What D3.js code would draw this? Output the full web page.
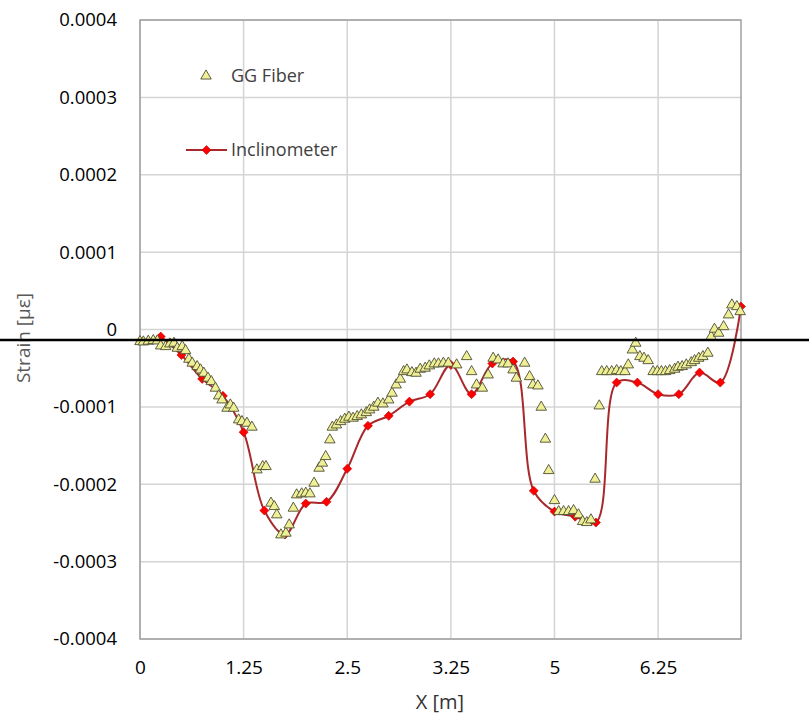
<!DOCTYPE html>
<html>
<head>
<meta charset="utf-8">
<script src="https://cdn.jsdelivr.net/npm/d3@7"></script>
<style>
  body { margin: 0; background: #fff; }
  svg { display: block; font-family: "Open Sans", sans-serif; }
</style>
</head>
<body>
<svg id="chart" width="809" height="716"></svg>
<script>
// GG Fiber readings: position along the line [m] and strain
const fiberX = [0.00, 0.04, 0.10, 0.16, 0.21, 0.25, 0.31, 0.36, 0.41, 0.45,
    0.51, 0.55, 0.59, 0.63, 0.69, 0.73, 0.77, 0.82, 0.86, 0.91,
    0.95, 0.99, 1.05, 1.09, 1.13, 1.19, 1.23, 1.29, 1.35, 1.41,
    1.48, 1.52, 1.58, 1.62, 1.65, 1.70, 1.76, 1.80, 1.85, 1.89,
    1.95, 2.00, 2.05, 2.10, 2.16, 2.20, 2.24, 2.29, 2.32, 2.37,
    2.42, 2.47, 2.52, 2.57, 2.62, 2.67, 2.73, 2.77, 2.82, 2.87,
    2.93, 3.00, 3.04, 3.09, 3.14, 3.18, 3.22, 3.28, 3.33, 3.38,
    3.44, 3.49, 3.55, 3.60, 3.66, 3.72, 3.82, 3.94, 4.00, 4.06,
    4.13, 4.20, 4.26, 4.32, 4.38, 4.44, 4.50, 4.54, 4.64, 4.70,
    4.74, 4.80, 4.84, 4.89, 4.93, 5.00, 5.05, 5.11, 5.17, 5.23,
    5.29, 5.34, 5.39, 5.44, 5.49, 5.54, 5.57, 5.63, 5.69, 5.75,
    5.80, 5.85, 5.89, 5.94, 5.98, 6.03, 6.08, 6.13, 6.19, 6.24,
    6.29, 6.34, 6.39, 6.45, 6.49, 6.54, 6.59, 6.65, 6.69, 6.74,
    6.79, 6.85, 6.89, 6.93, 6.98, 7.04, 7.10, 7.14, 7.20, 7.24];
const fiberStrain = [-0.0000156, -0.0000160, -0.0000151, -0.0000143, -0.0000147, -0.0000212, -0.0000221, -0.0000186, -0.0000177, -0.0000242,
    -0.0000221, -0.0000273, -0.0000384, -0.0000435, -0.0000479, -0.0000522, -0.0000565, -0.0000629, -0.0000673, -0.0000758,
    -0.0000858, -0.0000910, -0.0001017, -0.0000974, -0.0001017, -0.0001168, -0.0001190, -0.0001211, -0.0001262, -0.0001814,
    -0.0001771, -0.0001771, -0.0002244, -0.0002288, -0.0002395, -0.0002654, -0.0002632, -0.0002525, -0.0002309, -0.0002137,
    -0.0002124, -0.0002115, -0.0002124, -0.0001986, -0.0001792, -0.0001727, -0.0001642, -0.0001426, -0.0001262, -0.0001233,
    -0.0001190, -0.0001159, -0.0001133, -0.0001146, -0.0001125, -0.0001103, -0.0001074, -0.0001039, -0.0001004, -0.0000952,
    -0.0000961, -0.0000910, -0.0000823, -0.0000716, -0.0000642, -0.0000544, -0.0000522, -0.0000557, -0.0000565, -0.0000513,
    -0.0000500, -0.0000470, -0.0000444, -0.0000444, -0.0000435, -0.0000435, -0.0000457, -0.0000350, -0.0000544, -0.0000716,
    -0.0000758, -0.0000587, -0.0000371, -0.0000393, -0.0000444, -0.0000444, -0.0000522, -0.0000629, -0.0000435, -0.0000609,
    -0.0000716, -0.0000729, -0.0001004, -0.0001417, -0.0001823, -0.0002211, -0.0002353, -0.0002353, -0.0002353, -0.0002340,
    -0.0002395, -0.0002482, -0.0002495, -0.0002460, -0.0001934, -0.0000987, -0.0000544, -0.0000544, -0.0000544, -0.0000531,
    -0.0000544, -0.0000544, -0.0000457, -0.0000264, -0.0000177, -0.0000350, -0.0000371, -0.0000402, -0.0000544, -0.0000544,
    -0.0000544, -0.0000544, -0.0000531, -0.0000513, -0.0000487, -0.0000479, -0.0000457, -0.0000428, -0.0000402, -0.0000371,
    -0.0000350, -0.0000306, -0.0000092, 0.0000004, -0.0000048, 0.0000037, 0.0000189, 0.0000318, 0.0000296, 0.0000231];

// Inclinometer readings
const inclX = [0.25, 0.5, 0.75, 1.0, 1.25, 1.5, 1.75, 2.0, 2.25, 2.5,
    2.75, 3.0, 3.25, 3.5, 3.75, 4.0, 4.25, 4.5, 4.75, 5.0,
    5.25, 5.5, 5.75, 6.0, 6.25, 6.5, 6.75, 7.0, 7.25];
const inclStrain = [-0.0000092, -0.0000330, -0.0000638, -0.0000858, -0.0001327, -0.0002340, -0.0002650, -0.0002250, -0.0002227, -0.0001800,
    -0.0001245, -0.0001116, -0.0000932, -0.0000836, -0.0000457, -0.0000836, -0.0000440, -0.0000415, -0.0002085, -0.0002353,
    -0.0002420, -0.0002495, -0.0000686, -0.0000686, -0.0000836, -0.0000836, -0.0000557, -0.0000686, 0.0000296];

const xTickValues = [0, 1.25, 2.5, 3.75, 5, 6.25];
const xTickLabels = ["0", "1.25", "2.5", "3.25", "5", "6.25"];
const yTickValues = [0.0004, 0.0003, 0.0002, 0.0001, 0, -0.0001, -0.0002, -0.0003, -0.0004];
const yTickLabels = ["0.0004", "0.0003", "0.0002", "0.0001", "0", "-0.0001", "-0.0002", "-0.0003", "-0.0004"];
const refLineStrain = -0.0000135; // black reference line drawn over the chart

const svg = d3.select("#chart");
const plot = { left: 140, right: 741, top: 20, bottom: 639 };

const x = d3.scaleLinear().domain([0, 7.25]).range([plot.left, plot.right]);
const y = d3.scaleLinear().domain([-0.0004, 0.0004]).range([plot.bottom, plot.top]);

// gridlines
svg.append("g")
    .selectAll("line.h")
    .data(yTickValues)
    .join("line")
    .attr("x1", plot.left).attr("x2", plot.right)
    .attr("y1", d => y(d)).attr("y2", d => y(d))
    .attr("stroke", "#d4d4d4").attr("stroke-width", 1.5);

svg.append("g")
    .selectAll("line.v")
    .data(xTickValues)
    .join("line")
    .attr("x1", d => x(d)).attr("x2", d => x(d))
    .attr("y1", plot.top).attr("y2", plot.bottom)
    .attr("stroke", "#d4d4d4").attr("stroke-width", 1.5);

// plot border
svg.append("rect")
    .attr("x", plot.left).attr("y", plot.top)
    .attr("width", plot.right - plot.left).attr("height", plot.bottom - plot.top)
    .attr("fill", "none").attr("stroke", "#a0a0a0").attr("stroke-width", 1.5);

// axes (labels only, Excel style)
const xAxis = d3.axisBottom(x)
    .tickValues(xTickValues)
    .tickSize(0)
    .tickPadding(22)
    .tickFormat((d, i) => xTickLabels[i]);
const gx = svg.append("g").attr("transform", `translate(0,${plot.bottom})`).call(xAxis);
gx.select(".domain").remove();
gx.selectAll("text").attr("font-size", 19).attr("fill", "#000")
    .attr("font-family", "Open Sans, sans-serif");

const yAxis = d3.axisLeft(y)
    .tickValues(yTickValues)
    .tickSize(0)
    .tickPadding(23)
    .tickFormat((d, i) => yTickLabels[i]);
const gy = svg.append("g").attr("transform", `translate(${plot.left},0)`).call(yAxis);
gy.select(".domain").remove();
gy.selectAll("text").attr("font-size", 18.5).attr("fill", "#000")
    .attr("font-family", "Open Sans, sans-serif");

// axis titles
svg.append("text")
    .attr("x", 440).attr("y", 709)
    .attr("text-anchor", "middle")
    .attr("font-size", 20).attr("fill", "#333")
    .text("X [m]");

svg.append("text")
    .attr("transform", "translate(30,338) rotate(-90)")
    .attr("text-anchor", "middle")
    .attr("font-size", 19).attr("fill", "#595959")
    .text("Strain [με]");

// inclinometer smoothed line
const incl = inclX.map((d, i) => [d, inclStrain[i]]);
const line = d3.line()
    .x(d => x(d[0]))
    .y(d => y(d[1]))
    .curve(d3.curveCatmullRom.alpha(0.5));

svg.append("path")
    .datum(incl)
    .attr("d", line)
    .attr("fill", "none")
    .attr("stroke", "#a8282c")
    .attr("stroke-width", 2);

const diamond = d3.symbol().type(d3.symbolDiamond2).size(52);
svg.append("g")
    .selectAll("path")
    .data(incl)
    .join("path")
    .attr("d", diamond)
    .attr("transform", d => `translate(${x(d[0])},${y(d[1])})`)
    .attr("fill", "#ff0000")
    .attr("stroke", "#c00000")
    .attr("stroke-width", 0.6);

// GG Fiber triangles
const fiber = fiberX.map((d, i) => [d, fiberStrain[i]]);
const triangle = d3.symbol().type(d3.symbolTriangle).size(48);
svg.append("g")
    .selectAll("path")
    .data(fiber)
    .join("path")
    .attr("d", triangle)
    .attr("transform", d => `translate(${x(d[0])},${y(d[1])})`)
    .attr("fill", "#efef96")
    .attr("stroke", "#4d4d33")
    .attr("stroke-width", 0.9);

// legend
const legend = svg.append("g").attr("font-size", 18).attr("fill", "#404040");
legend.append("path")
    .attr("d", triangle)
    .attr("transform", "translate(206,76)")
    .attr("fill", "#efef96").attr("stroke", "#4d4d33").attr("stroke-width", 0.9);
legend.append("text").attr("x", 231).attr("y", 76).attr("dy", "0.35em").text("GG Fiber");

legend.append("line")
    .attr("x1", 186).attr("x2", 227).attr("y1", 150).attr("y2", 150)
    .attr("stroke", "#a8282c").attr("stroke-width", 2);
legend.append("path")
    .attr("d", diamond)
    .attr("transform", "translate(206.5,150)")
    .attr("fill", "#ff0000").attr("stroke", "#c00000").attr("stroke-width", 0.6);
legend.append("text").attr("x", 231).attr("y", 150).attr("dy", "0.35em").text("Inclinometer");

// black reference line across the full width
svg.append("line")
    .attr("x1", 0).attr("x2", 809)
    .attr("y1", y(refLineStrain)).attr("y2", y(refLineStrain))
    .attr("stroke", "#000").attr("stroke-width", 2.5);
</script>
</body>
</html>
